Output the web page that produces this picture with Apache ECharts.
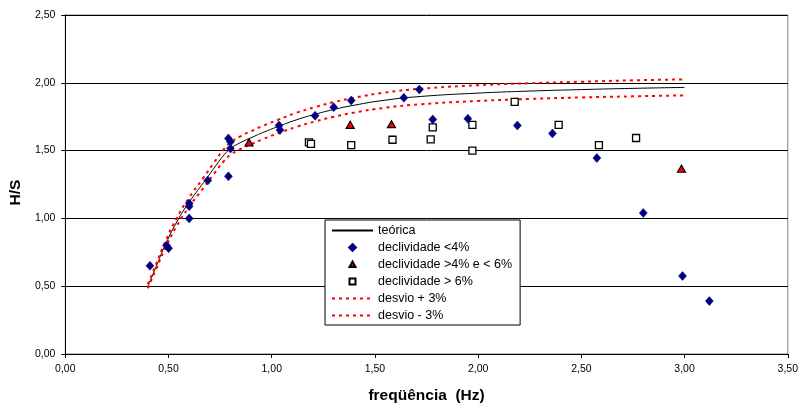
<!DOCTYPE html>
<html>
<head>
<meta charset="utf-8">
<script src="https://cdn.jsdelivr.net/npm/echarts@6/dist/echarts.min.js"></script>
<style>
html,body{margin:0;padding:0;background:#fff;}
#chart{width:801px;height:410px;}
</style>
</head>
<body>
<div id="chart"></div>
<script>
// ---- data ----
const seriesNames = ['teórica', 'declividade <4%', 'declividade >4% e < 6%', 'declividade > 6%', 'desvio + 3%', 'desvio - 3%'];

const curveX      = [0.40, 0.44, 0.48, 0.54, 0.60, 0.67, 0.72, 0.77, 0.80, 0.85, 0.90, 0.96, 1.03, 1.12, 1.21, 1.30, 1.40, 1.55, 1.72, 2.00, 2.25, 2.50, 2.75, 3.00];
const teorica     = [0.50, 0.645, 0.79, 0.975, 1.12, 1.265, 1.37, 1.47, 1.515, 1.56, 1.595, 1.635, 1.677, 1.727, 1.768, 1.803, 1.835, 1.872, 1.899, 1.924, 1.939, 1.950, 1.959, 1.966];
const desvioMais  = [0.515, 0.664, 0.814, 1.004, 1.154, 1.303, 1.411, 1.514, 1.560, 1.607, 1.643, 1.684, 1.727, 1.779, 1.821, 1.857, 1.890, 1.928, 1.956, 1.982, 1.997, 2.008, 2.018, 2.025];
const desvioMenos = [0.485, 0.626, 0.766, 0.946, 1.086, 1.227, 1.329, 1.426, 1.470, 1.513, 1.547, 1.586, 1.627, 1.675, 1.715, 1.749, 1.780, 1.816, 1.842, 1.866, 1.881, 1.892, 1.900, 1.907];

const decl4X = [0.41, 0.49, 0.50, 0.60, 0.60, 0.60, 0.69, 0.79, 0.79, 0.80, 0.80, 1.035, 1.04, 1.21, 1.30, 1.385, 1.64, 1.715, 1.78, 1.95, 2.19, 2.36, 2.575, 2.80, 2.99, 3.12];
const decl4Y = [0.65, 0.80, 0.78, 1.11, 1.09, 1.00, 1.28, 1.31, 1.59, 1.565, 1.515, 1.685, 1.652, 1.757, 1.82, 1.87, 1.89, 1.95, 1.73, 1.735, 1.685, 1.627, 1.445, 1.04, 0.575, 0.39];

const decl46X = [0.89, 1.38, 1.58, 2.985];
const decl46Y = [1.56, 1.69, 1.695, 1.366];

const decl6X = [1.18, 1.19, 1.385, 1.585, 1.77, 1.78, 1.972, 1.972, 2.177, 2.39, 2.585, 2.765];
const decl6Y = [1.56, 1.55, 1.54, 1.58, 1.583, 1.671, 1.69, 1.50, 1.86, 1.69, 1.54, 1.593];

const xTicks = [0, 0.5, 1, 1.5, 2, 2.5, 3, 3.5];
const yTicks = [0, 0.5, 1, 1.5, 2, 2.5];

// ---- build ----
const zip = (xs, ys) => xs.map((x, i) => [x, ys[i]]);
const FONT = "'Liberation Sans', Arial, sans-serif";
const fmt = v => v.toFixed(2).replace('.', ',');

const chart = echarts.init(document.getElementById('chart'), null, {renderer: 'canvas'});

const dashRed = {color: '#ff0000', width: 2, type: [3, 4]};
const noSymbol = {opacity: 0, borderWidth: 0};
const SMOOTH = 0.5;

const option = {
  animation: false,
  backgroundColor: '#ffffff',
  textStyle: {fontFamily: FONT},
  grid: {left: 65, right: 10, top: 15, bottom: 56, show: true, borderColor: '#808080', borderWidth: 1, backgroundColor: 'transparent'},
  xAxis: {
    type: 'value', min: xTicks[0], max: xTicks[xTicks.length - 1], interval: 0.5,
    name: 'freqüência  (Hz)', nameLocation: 'middle', nameGap: 34,
    nameTextStyle: {fontFamily: FONT, fontSize: 15.5, fontWeight: 'bold', color: '#000'},
    axisLine: {show: true, onZero: false, lineStyle: {color: '#000', width: 1}},
    axisTick: {show: true, length: 4, lineStyle: {color: '#000'}},
    axisLabel: {fontFamily: FONT, fontSize: 10.5, color: '#000', margin: 10, formatter: fmt},
    splitLine: {show: false}
  },
  yAxis: {
    type: 'value', min: yTicks[0], max: yTicks[yTicks.length - 1], interval: 0.5,
    name: 'H/S', nameLocation: 'middle', nameGap: 40, nameRotate: 90,
    nameTextStyle: {fontFamily: FONT, fontSize: 15.5, fontWeight: 'bold', color: '#000', padding: [0, 0, 0, -16]},
    axisLine: {show: true, onZero: false, lineStyle: {color: '#000', width: 1}},
    axisTick: {show: true, length: 4, lineStyle: {color: '#000'}},
    axisLabel: {fontFamily: FONT, fontSize: 10.5, color: '#000', margin: 10, formatter: fmt},
    splitLine: {show: true, lineStyle: {color: '#000', width: 1}}
  },
  legend: {
    orient: 'vertical', left: 325, top: 220,
    padding: [3, 8, 2, 6], itemGap: 2, itemWidth: 41, itemHeight: 12,
    backgroundColor: '#fff', borderColor: '#000', borderWidth: 1,
    textStyle: {fontFamily: FONT, fontSize: 12.5, color: '#000', lineHeight: 15},
    data: [
      {name: seriesNames[0], itemStyle: noSymbol},
      {name: seriesNames[1], icon: 'path://M0,0M14,14M7,3L11,7L7,11L3,7Z'},
      {name: seriesNames[2], icon: 'path://M0,0M14,14M7,3.5L10.5,10L3.5,10Z'},
      {name: seriesNames[3], icon: 'path://M0,0M14,14M3.5,3.5L10.5,3.5L10.5,10.5L3.5,10.5Z'},
      {name: seriesNames[4], itemStyle: noSymbol},
      {name: seriesNames[5], itemStyle: noSymbol}
    ]
  },
  series: [
    {name: seriesNames[0], type: 'line', data: zip(curveX, teorica), showSymbol: false, symbol: 'none',
     smooth: SMOOTH, lineStyle: {color: '#000', width: 1}, itemStyle: {color: '#000'}, z: 2},
    {name: seriesNames[1], type: 'scatter', data: zip(decl4X, decl4Y), symbol: 'diamond', symbolSize: [8, 9],
     itemStyle: {color: '#000080', borderColor: '#000080', borderWidth: 0.5, opacity: 1}, z: 5},
    {name: seriesNames[2], type: 'scatter', data: zip(decl46X, decl46Y), symbol: 'triangle', symbolSize: [8, 7],
     itemStyle: {color: '#ff0000', borderColor: '#000', borderWidth: 1.2, opacity: 1}, z: 5},
    {name: seriesNames[3], type: 'scatter', data: zip(decl6X, decl6Y), symbol: 'rect', symbolSize: 7,
     itemStyle: {color: '#fff', borderColor: '#000', borderWidth: 1.3, opacity: 1}, z: 5},
    {name: seriesNames[4], type: 'line', data: zip(curveX, desvioMais), showSymbol: false, symbol: 'none',
     smooth: SMOOTH, lineStyle: dashRed, itemStyle: {color: '#ff0000'}, z: 3},
    {name: seriesNames[5], type: 'line', data: zip(curveX, desvioMenos), showSymbol: false, symbol: 'none',
     smooth: SMOOTH, lineStyle: dashRed, itemStyle: {color: '#ff0000'}, z: 3}
  ]
};
chart.setOption(option);
</script>
</body>
</html>
